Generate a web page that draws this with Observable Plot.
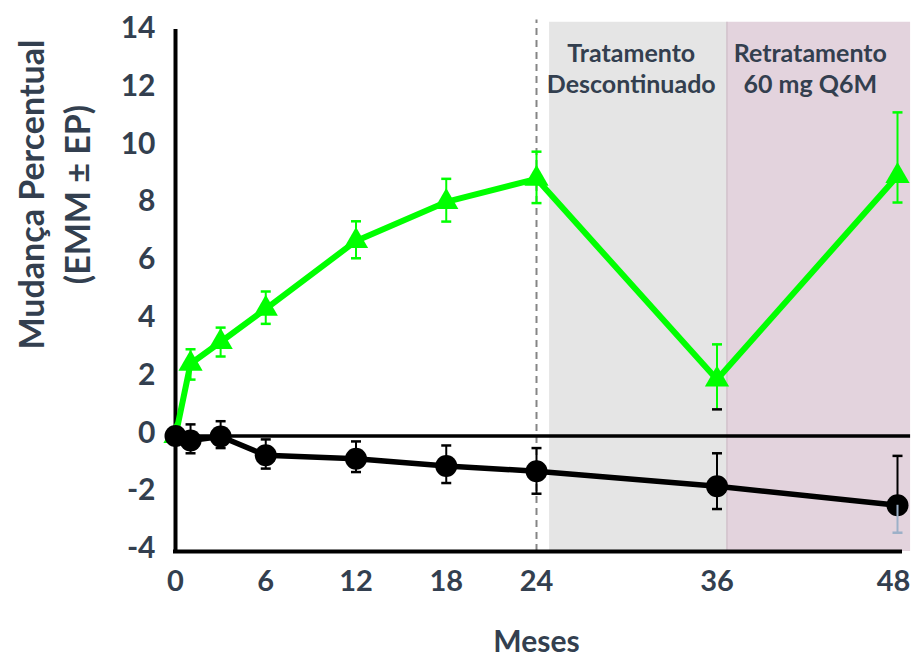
<!DOCTYPE html>
<html><head><meta charset="utf-8">
<script src="https://cdn.jsdelivr.net/npm/d3@7"></script>
<script src="https://cdn.jsdelivr.net/npm/@observablehq/plot@0.6"></script>
<style>
body{margin:0;background:#fff;}
</style></head><body><div id="chart"></div>
<script>
// ---- data ----
const months = [0, 1, 3, 6, 12, 18, 24, 36, 48];
const retreatMean = [0, 2.5, 3.25, 4.4, 6.75, 8.1, 8.9, 1.95, 9.0];
const retreatLo   = [0, 1.95, 2.75, 3.88, 6.15, 7.42, 8.06, 0.92, 8.08];
const retreatHi   = [0, 3.0, 3.75, 5.0, 7.43, 8.9, 9.84, 3.17, 11.2];
const placeboMean = [0, -0.16, -0.02, -0.67, -0.79, -1.04, -1.22, -1.74, -2.4];
const placeboLo   = [0, -0.6, -0.42, -1.13, -1.25, -1.63, -2.0, -2.53, -3.35];
const placeboHi   = [0, 0.4, 0.51, -0.12, -0.19, -0.33, -0.42, -0.6, -0.69];
const xTicks = [0, 6, 12, 18, 24, 36, 48];
const yTicks = [-4, -2, 0, 2, 4, 6, 8, 10, 12, 14];
const regionNames = ["Tratamento\nDescontinuado", "Retratamento\n60 mg Q6M"];
const regionStart = [24.87, 36.66];
const regionEnd = [36.66, 48.87];
const regionLabelX = [30.3, 42.2];
const regionTop = 14.32;
const dashedAt = 24;
const xAxisLabel = "Meses";
const yAxisLabel = "Mudança Percentual\n(EMM ± EP)";

// ---- styles ----
const GREEN = "#00ff00";
const TEXT = "#333f4f";
const regionFills = ["#e5e5e5", "#e3d3dd"];

const retreat = months.map((m, i) => ({m, y: retreatMean[i], lo: retreatLo[i], hi: retreatHi[i]}));
const placebo = months.map((m, i) => ({m, y: placeboMean[i], lo: placeboLo[i], hi: placeboHi[i]}));
const retreatErr = retreat.filter(d => d.m > 0);
const placeboErr = placebo.filter(d => d.m > 0);
const regions = regionNames.map((name, i) => ({name, x1: regionStart[i], x2: regionEnd[i], lx: regionLabelX[i]}));
const lastTick = xTicks[xTicks.length - 1];

const cap = {draw(ctx) { ctx.moveTo(-5, 0); ctx.lineTo(5, 0); }};

const chart = Plot.plot({
  width: 913, height: 657,
  marginLeft: 175, marginRight: 16, marginTop: 31, marginBottom: 106,
  style: {fontFamily: "Lato, sans-serif", fontWeight: "bold", fontSize: "30px", color: TEXT, background: "white"},
  x: {domain: [0, 48]},
  y: {domain: [-4, 14]},
  marks: [
    Plot.rect(regions, {x1: "x1", x2: "x2", y1: -4, y2: regionTop, fill: (d, i) => regionFills[i]}),
    Plot.ruleX([regionStart[1]], {y1: -4, y2: regionTop, stroke: "#c6b6c0", strokeWidth: 1}),
    Plot.ruleX([dashedAt], {y1: -4, y2: 14.4, stroke: "#858585", strokeWidth: 2, strokeDasharray: "7,5"}),
    Plot.ruleY([0], {x1: 0, x2: 48.87, stroke: "black", strokeWidth: 3.5}),
    Plot.ruleX([0], {y1: -4, y2: 14, stroke: "black", strokeWidth: 4, strokeLinecap: "square"}),
    Plot.ruleY([-4], {x1: 0, x2: 48.2, stroke: "black", strokeWidth: 4, strokeLinecap: "square"}),
    Plot.axisY({ticks: yTicks, tickSize: 0, tickPadding: 20, dy: -3, label: null, tickFormat: d => String(d)}),
    Plot.axisX({ticks: xTicks.filter(t => t !== lastTick), tickSize: 0, tickPadding: 19, label: null, tickFormat: d => String(d), fontSize: 29}),
    Plot.axisX({ticks: [lastTick], tickSize: 0, tickPadding: 19, label: null, dx: -4, tickFormat: d => String(d), fontSize: 29}),
    Plot.text(regions, {x: "lx", text: "name", frameAnchor: "top", lineAnchor: "top", dy: 8, fontSize: 25, lineHeight: 1.25, fill: TEXT}),
    Plot.text([xAxisLabel], {frameAnchor: "bottom", lineAnchor: "bottom", dy: 100, fontSize: 30, fill: TEXT}),
    Plot.text([yAxisLabel], {frameAnchor: "left", textAnchor: "middle", rotate: -90, dx: -123, dy: -97, fontSize: 34, lineHeight: 1.35, fill: TEXT}),
    // retreatment series (green)
    Plot.line(retreat, {x: "m", y: "y", stroke: GREEN, strokeWidth: 6}),
    Plot.ruleX(retreatErr, {x: "m", y1: "lo", y2: "hi", stroke: GREEN, strokeWidth: 2}),
    Plot.dot(retreatErr, {x: "m", y: "hi", symbol: cap, stroke: GREEN, fill: "none", strokeWidth: 2.5}),
    Plot.dot(retreatErr, {x: "m", y: "lo", symbol: cap, stroke: d => d.m === 36 ? "black" : GREEN, fill: "none", strokeWidth: 2.5}),
    Plot.dot(retreat, {x: "m", y: "y", symbol: "triangle", r: 9, fill: GREEN}),
    // placebo series (black)
    Plot.line(placebo, {x: "m", y: "y", stroke: "black", strokeWidth: 5.5}),
    Plot.dot(placebo, {x: "m", y: "y", r: 11, fill: "black"}),
    Plot.ruleX(placeboErr, {x: "m", y1: "y", y2: "hi", stroke: "black", strokeWidth: 2}),
    Plot.ruleX(placeboErr, {x: "m", y1: "lo", y2: "y", stroke: d => d.m === 48 ? "#9cb0c8" : "black", strokeWidth: 2}),
    Plot.dot(placeboErr, {x: "m", y: "hi", symbol: cap, stroke: "black", fill: "none", strokeWidth: 2.5}),
    Plot.dot(placeboErr, {x: "m", y: "lo", symbol: cap, stroke: d => d.m === 48 ? "#9cb0c8" : "black", fill: "none", strokeWidth: 2.5})
  ]
});
document.getElementById("chart").appendChild(chart);
</script>
</body></html>
